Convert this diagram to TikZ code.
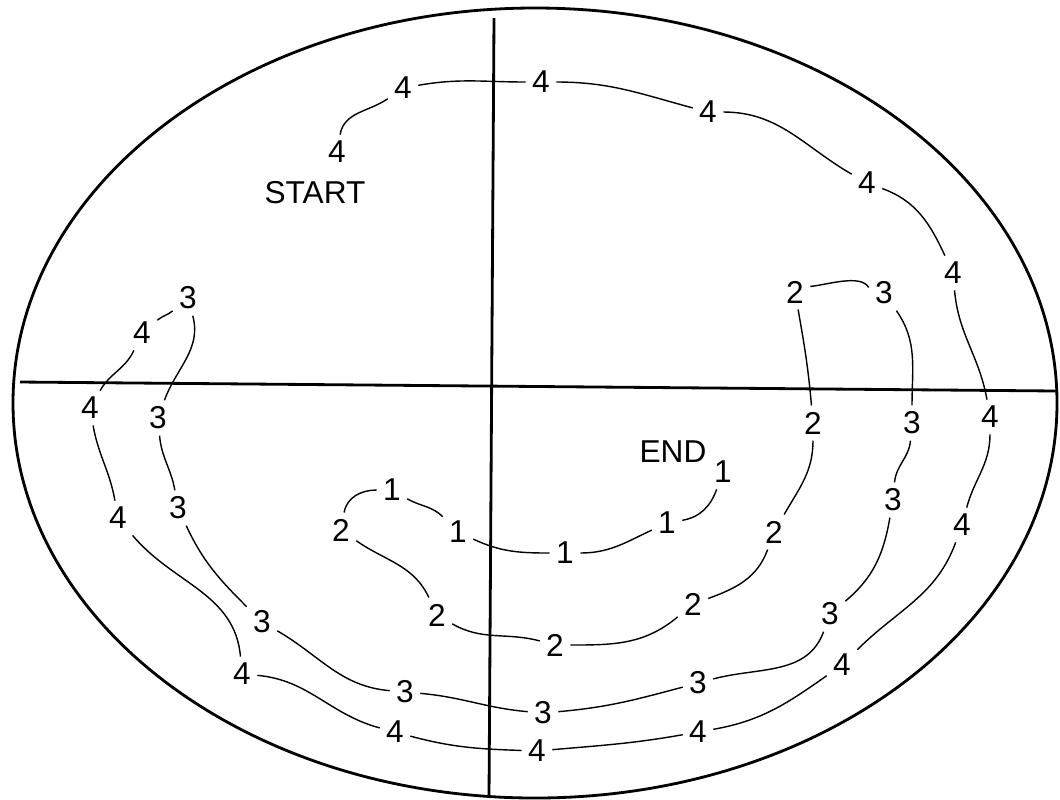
\documentclass[tikz,border=0pt]{standalone}
\usepackage{fontspec}
\setmainfont{Liberation Sans}
\begin{document}
\begin{tikzpicture}[
    x=0.02cm, y=-0.02cm,
    num/.style={inner sep=3.5pt, font=\fontsize{18}{20}\selectfont},
    tag/.style={inner sep=3pt, font=\fontsize{18}{20}\selectfont},
    trail/.style={line width=0.8pt},
    frame/.style={line width=1.6pt}
]
  \useasboundingbox (0,0) rectangle (1060,799);

  % Outline and axes
  \draw[frame] (535,403) ellipse (522 and 395);
  \draw[frame] (494,18) -- (489,797);
  \draw[frame] (20,382) -- (1057,391);

  % Outer turn (4)
  \node[tag] (start) at (315,193) {START};
  \node[num] (r4a) at (337,152) {4};
  \node[num] (r4b) at (403,88) {4};
  \node[num] (r4c) at (541,82) {4};
  \node[num] (r4d) at (708,112) {4};
  \node[num] (r4e) at (867,183) {4};
  \node[num] (r4f) at (953,273) {4};
  \node[num] (r4g) at (990,417) {4};
  \node[num] (r4h) at (962,525) {4};
  \node[num] (r4i) at (842,665) {4};
  \node[num] (r4j) at (698,732) {4};
  \node[num] (r4k) at (537,751) {4};
  \node[num] (r4l) at (395,732) {4};
  \node[num] (r4m) at (242,674) {4};
  \node[num] (r4n) at (118,518) {4};
  \node[num] (r4o) at (90,408) {4};
  \node[num] (r4p) at (142,333) {4};

  % Turn (3)
  \node[num] (r3a) at (188,298) {3};
  \node[num] (r3b) at (158,418) {3};
  \node[num] (r3c) at (178,508) {3};
  \node[num] (r3d) at (262,622) {3};
  \node[num] (r3e) at (405,692) {3};
  \node[num] (r3f) at (543,713) {3};
  \node[num] (r3g) at (698,683) {3};
  \node[num] (r3h) at (830,614) {3};
  \node[num] (r3i) at (893,500) {3};
  \node[num] (r3j) at (912,423) {3};
  \node[num] (r3k) at (884,293) {3};

  % Turn (2)
  \node[num] (r2a) at (795,292) {2};
  \node[num] (r2b) at (813,423) {2};
  \node[num] (r2c) at (774,532) {2};
  \node[num] (r2d) at (693,604) {2};
  \node[num] (r2e) at (555,645) {2};
  \node[num] (r2f) at (437,615) {2};
  \node[num] (r2g) at (341,530) {2};

  % Inner turn (1)
  \node[num] (r1a) at (392,490) {1};
  \node[num] (r1b) at (458,532) {1};
  \node[num] (r1c) at (565,553) {1};
  \node[num] (r1d) at (667,523) {1};
  \node[num] (r1e) at (723,472) {1};
  \node[tag] (end) at (673,452) {END};

  \draw[trail] (r4a) to[out=80,in=215] (r4b);
  \draw[trail] (r4b) to[out=10,in=180] (r4c);
  \draw[trail] (r4c) to[out=0,in=165] (r4d);
  \draw[trail] (r4d) to[out=0,in=150] (r4e);
  \draw[trail] (r4e) to[out=-20,in=115] (r4f);
  \draw[trail] (r4f) to[out=-85,in=100] (r4g);
  \draw[trail] (r4g) to[out=-90,in=75] (r4h);
  \draw[trail] (r4h) to[out=-110,in=45] (r4i);
  \draw[trail] (r4i) to[out=-145,in=10] (r4j);
  \draw[trail] (r4j) to[out=-170,in=5] (r4k);
  \draw[trail] (r4k) to[out=178,in=-15] (r4l);
  \draw[trail] (r4l) to[out=165,in=-5] (r4m);
  \draw[trail] (r4m) to[out=95,in=-50] (r4n);
  \draw[trail] (r4n) to[out=100,in=-80] (r4o);
  \draw[trail] (r4o) to[out=60,in=-115] (r4p);
  \draw[trail] (r4p) to[out=40,in=-140] (r3a);

  \draw[trail] (r3a) to[out=-75,in=70] (r3b);
  \draw[trail] (r3b) to[out=-85,in=100] (r3c);
  \draw[trail] (r3c) to[out=-65,in=135] (r3d);
  \draw[trail] (r3d) to[out=-30,in=175] (r3e);
  \draw[trail] (r3e) to[out=-5,in=175] (r3f);
  \draw[trail] (r3f) to[out=5,in=-165] (r3g);
  \draw[trail] (r3g) to[out=15,in=-110] (r3h);
  \draw[trail] (r3h) to[out=40,in=-100] (r3i);
  \draw[trail] (r3i) to[out=85,in=-95] (r3j);
  \draw[trail] (r3j) to[out=90,in=-55] (r3k);
  \draw[trail] (r3k.160) to[out=120,in=5,looseness=0.7] (r2a.20);

  \draw[trail] (r2a) to[out=-80,in=95] (r2b);
  \draw[trail] (r2b) to[out=-90,in=60] (r2c);
  \draw[trail] (r2c) to[out=-110,in=20] (r2d);
  \draw[trail] (r2d) to[out=-140,in=0] (r2e);
  \draw[trail] (r2e) to[out=165,in=-30] (r2f);
  \draw[trail] (r2f) to[out=115,in=-35] (r2g);
  \draw[trail] (r2g) to[out=80,in=180] (r1a);

  \draw[trail] (r1a) to[out=-30,in=135] (r1b);
  \draw[trail] (r1b) to[out=-25,in=180] (r1c);
  \draw[trail] (r1c) to[out=0,in=-155] (r1d);
  \draw[trail] (r1d) to[out=10,in=-110] (r1e);
\end{tikzpicture}
\end{document}
